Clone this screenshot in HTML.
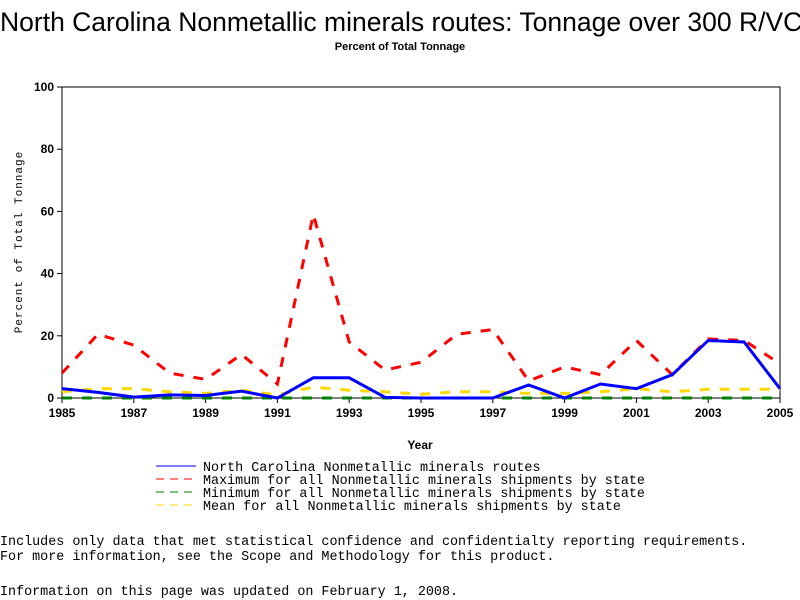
<!DOCTYPE html>
<html><head><meta charset="utf-8"><style>
body{margin:0;background:#fff;width:800px;height:600px;overflow:hidden;position:relative;font-family:"Liberation Sans",sans-serif}
.t{position:absolute;white-space:pre}
.mono{font-family:"Liberation Mono",monospace;font-size:13.4px}
</style></head><body>
<div class="t" style="left:0;top:7px;width:800px;text-align:center;font-size:26.5px">North Carolina Nonmetallic minerals routes: Tonnage over 300 R/VC</div>
<div class="t" style="left:0;top:41px;width:800px;text-align:center;font-size:11px;font-weight:bold">Percent of Total Tonnage</div>
<svg id="c" width="800" height="600" style="position:absolute;left:0;top:0"></svg>
<div class="t mono" style="left:0;top:535px">Includes only data that met statistical confidence and confidentialty reporting requirements.
For more information, see the Scope and Methodology for this product.</div>
<div class="t mono" style="left:0;top:585px">Information on this page was updated on February 1, 2008.</div>
<script>
const years=[1985,1986,1987,1988,1989,1990,1991,1992,1993,1994,1995,1996,1997,1998,1999,2000,2001,2002,2003,2004,2005];
const ncVals=[3,1.8,0.3,1,0.8,2.2,0,6.5,6.5,0.2,0,0,0,4.2,0,4.5,3,7.5,18.5,18,3];
const maxVals=[8,20.5,17,8,6,14,4.5,59,18,9,11.5,20.5,22,5.5,10,7.5,18.5,7.5,19,18.5,11];
const minVals=[0,0,0,0,0,0,0,0,0,0,0,0,0,0,0,0,0,0,0,0,0];
const meanVals=[2,3,3,2,1.5,2.5,1,3.5,2.5,2,1.2,2,2,1.5,1.5,2,3,2,2.8,2.8,2.8];
const yTicks=[0,20,40,60,80,100];
const xTicks=[1985,1987,1989,1991,1993,1995,1997,1999,2001,2003,2005];
const X0=62,X1=780,Y0=398,Y1=87;
const xs=v=>X0+(v-1985)/(2005-1985)*(X1-X0);
const ys=v=>Y0-v/100*(Y0-Y1);
const svg=document.getElementById('c');
const NS='http://www.w3.org/2000/svg';
function mk(t,a){const e=document.createElementNS(NS,t);for(const k in a)e.setAttribute(k,a[k]);svg.appendChild(e);return e;}
const frame=mk('rect',{x:X0,y:Y1,width:X1-X0,height:Y0-Y1,fill:'none',stroke:'#000','stroke-width':1});


yTicks.forEach(v=>{
 const l=mk('line',{x1:X0-5,x2:X0,y1:ys(v),y2:ys(v),stroke:'#000'});
 
 
 const t=mk('text',{x:X0-8,y:ys(v)+4,'text-anchor':'end','font-size':'12','font-weight':'bold','font-family':'Liberation Sans, sans-serif'});
 t.textContent=v;
 
 
});
xTicks.forEach(v=>{
 const l=mk('line',{x1:xs(v),x2:xs(v),y1:Y0,y2:Y0+5,stroke:'#000'});
 
 
 const t=mk('text',{x:xs(v),y:Y0+19,'text-anchor':'middle','font-size':'12','font-weight':'bold','font-family':'Liberation Sans, sans-serif'});
 t.textContent=v;
 
 
});
const xt=mk('text',{x:420,y:449,'text-anchor':'middle','font-size':'12','font-weight':'bold','font-family':'Liberation Sans, sans-serif'});
xt.textContent='Year';


const yt=mk('text',{x:0,y:0,'text-anchor':'middle','font-size':'11','font-family':'Liberation Mono, monospace','transform':'translate(22,242) rotate(-90)','letter-spacing':'1'});
yt.textContent='Percent of Total Tonnage';


function series(vals,color,w,dash,name){
 const p=mk('polyline',{points:vals.map((v,i)=>xs(years[i])+','+ys(v)).join(' '),fill:'none',stroke:color,'stroke-width':w,'stroke-dasharray':dash});
 
 
}
series(minVals,'#008000',3,'10,10','min-line');
series(meanVals,'#ffd700',3,'10,10','mean-line');
series(maxVals,'#ff0000',3,'10,10','max-line');
series(ncVals,'#0000ff',3,'','nc-line');
const leg=[['#0000ff','','North Carolina Nonmetallic minerals routes'],['#ff0000','8,6','Maximum for all Nonmetallic minerals shipments by state'],['#008000','8,6','Minimum for all Nonmetallic minerals shipments by state'],['#ffd700','8,6','Mean for all Nonmetallic minerals shipments by state']];
leg.forEach((d,i)=>{
 const y=467+i*13;
 const l=mk('line',{x1:156,x2:196,y1:y-1,y2:y-1,stroke:d[0],'stroke-width':1,'stroke-dasharray':d[1]});
 
 
 const t=mk('text',{x:203,y:y+4,'font-size':'13.4','font-family':'Liberation Mono, monospace'});
 t.textContent=d[2];
 
 
});
</script>
</body></html>
